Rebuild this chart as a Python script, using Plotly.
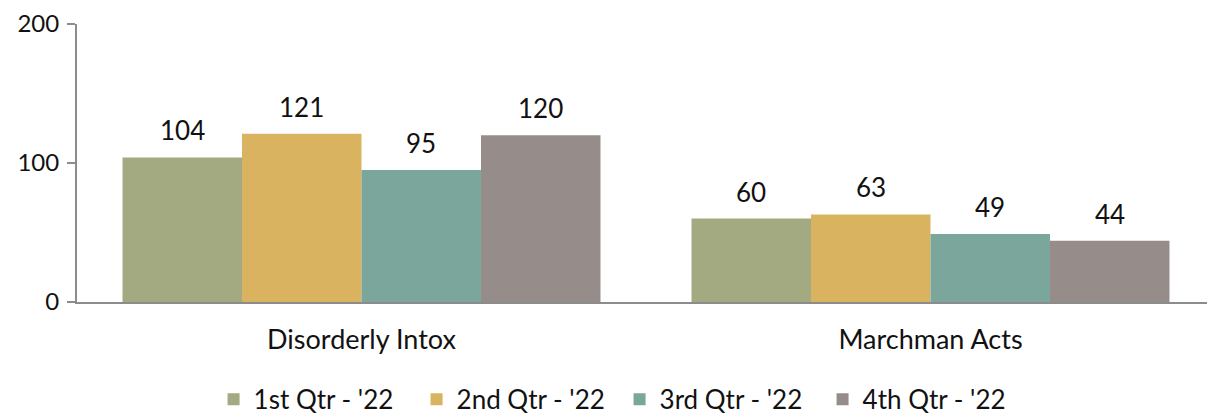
import plotly.graph_objects as go

categories = ["Disorderly Intox", "Marchman Acts"]
series_names = ["1st Qtr - '22", "2nd Qtr - '22", "3rd Qtr - '22", "4th Qtr - '22"]
q1 = [104, 60]
q2 = [121, 63]
q3 = [95, 49]
q4 = [120, 44]
series_values = [q1, q2, q3, q4]
colors = ["#A3A980", "#D9B360", "#7BA69C", "#968C8A"]
y_ticks = [0, 100, 200]

FONT = "Lato, 'Open Sans', sans-serif"
bargap = 0.16
n = len(series_values)
bw = (1 - bargap) / n

fig = go.Figure()
for name, vals, col in zip(series_names, series_values, colors):
    fig.add_trace(go.Bar(x=categories, y=vals, name=name, marker=dict(color=col, line=dict(width=0))))

annotations = []
for k, vals in enumerate(series_values):
    off = -(1 - bargap) / 2 + bw * (k + 0.5)
    for i, v in enumerate(vals):
        annotations.append(dict(x=i + off, y=v, xref="x", yref="y", text=str(v), showarrow=False,
                                yanchor="bottom", yshift=9, font=dict(family=FONT, size=26, color="#111")))

fig.update_layout(
    width=1207, height=408,
    margin=dict(l=69, r=0, t=16, b=114, autoexpand=False),
    paper_bgcolor="white", plot_bgcolor="white",
    barmode="group", bargap=bargap, bargroupgap=0,
    font=dict(family=FONT, size=26, color="#111"),
    annotations=annotations,
    showlegend=True,
    legend=dict(orientation="h", x=0.12, xanchor="left", y=-0.35, yanchor="middle",
                entrywidth=158, entrywidthmode="pixels",
                font=dict(family=FONT, size=26, color="#111"), itemwidth=30, traceorder="normal"),
)
fig.update_xaxes(showline=True, linecolor="#8c8c8c", linewidth=2, ticks="", showgrid=False, automargin=False,
                 ticklabelstandoff=13, tickfont=dict(family=FONT, size=27, color="#111"))
fig.update_yaxes(range=[0, 200], tickvals=y_ticks, showline=True, linecolor="#8c8c8c", linewidth=2,
                 ticks="outside", ticklen=8, tickcolor="#8c8c8c", tickwidth=2, showgrid=False, automargin=False,
                 ticklabeloverflow="allow",
                 zeroline=False, ticklabelstandoff=3, tickfont=dict(family=FONT, size=24, color="#111"))

fig.write_html("out.html")
